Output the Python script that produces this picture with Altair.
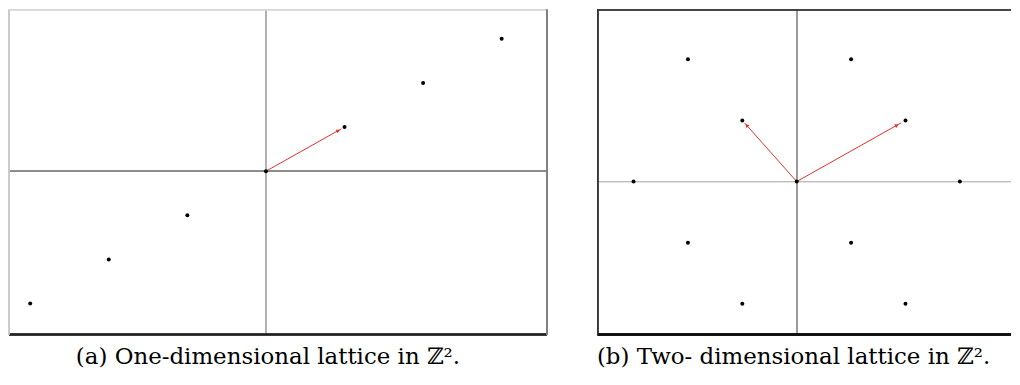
import math
import altair as alt
import pandas as pd

# ---- Panel (a): one-dimensional lattice generated by (2, 1)
a_pts_x = [-6, -4, -2, 0, 2, 4, 6]
a_pts_y = [-3, -2, -1, 0, 1, 2, 3]
a_vec_x = [2]
a_vec_y = [1]
a_xdom = [-6.54, 7.15]
a_ydom = [-3.70, 3.66]

# ---- Panel (b): two-dimensional lattice generated by (2, 1) and (-1, 1)
b_pts_x = [-2, 1, 4, -1, 2, -3, 0, 3, -2, 1, 4, -1, 2]
b_pts_y = [2, 2, 2, 1, 1, 0, 0, 0, -1, -1, -1, -2, -2]
b_vec_x = [2, -1]
b_vec_y = [1, 1]
b_xdom = [-3.66, 3.94]
b_ydom = [-2.50, 2.81]

caption_a = "(a) One-dimensional lattice in ℤ²."
caption_b = "(b) Two- dimensional lattice in ℤ²."

H = 326
A_W = 540
B_W = 415
FONT = "DejaVu Serif"
RED = "#e0302e"


def panel(px, py, vx, vy, xdom, ydom, w, h, caption, anchor, dx,
          hcol, vcol, top_col, left_col, right_col, bottom_col, draw_right=True):
    xs = alt.Scale(domain=xdom, nice=False, zero=False)
    ys = alt.Scale(domain=ydom, nice=False, zero=False)
    pxu = w / (xdom[1] - xdom[0])
    pyu = h / (ydom[1] - ydom[0])

    pts = pd.DataFrame({"x": px, "y": py})
    vec = pd.DataFrame({"x0": [0] * len(vx), "y0": [0] * len(vy),
                        "x1": [v * 0.96 for v in vx], "y1": [v * 0.96 for v in vy],
                        "hx": [v * 0.92 for v in vx], "hy": [v * 0.92 for v in vy],
                        "ang": [(math.degrees(math.atan2(-b * pyu, a * pxu)) + 360) % 360
                                for a, b in zip(vx, vy)]})

    X = lambda f: alt.X(f, type="quantitative", scale=xs, axis=None)
    Y = lambda f: alt.Y(f, type="quantitative", scale=ys, axis=None)

    haxis = alt.Chart(pts).mark_rule(color=hcol, strokeWidth=1).encode(
        y=alt.Y(datum=0, scale=ys, axis=None),
        x=alt.X(datum=xdom[0], scale=xs, axis=None), x2=alt.X2(datum=xdom[1]))
    vaxis = alt.Chart(pts).mark_rule(color=vcol, strokeWidth=1).encode(
        x=alt.X(datum=0, scale=xs, axis=None),
        y=alt.Y(datum=ydom[0], scale=ys, axis=None), y2=alt.Y2(datum=ydom[1]))

    borders = [
        alt.Chart(pts).mark_rule(color=top_col, strokeWidth=1).encode(
            y=alt.Y(datum=ydom[1], scale=ys, axis=None),
            x=alt.X(datum=xdom[0], scale=xs, axis=None), x2=alt.X2(datum=xdom[1])),
        alt.Chart(pts).mark_rule(color=bottom_col, strokeWidth=1.5).encode(
            y=alt.Y(datum=ydom[0], scale=ys, axis=None),
            x=alt.X(datum=xdom[0], scale=xs, axis=None), x2=alt.X2(datum=xdom[1])),
        alt.Chart(pts).mark_rule(color=left_col, strokeWidth=1).encode(
            x=alt.X(datum=xdom[0], scale=xs, axis=None),
            y=alt.Y(datum=ydom[0], scale=ys, axis=None), y2=alt.Y2(datum=ydom[1])),
    ]
    if draw_right:
        borders.append(alt.Chart(pts).mark_rule(color=right_col, strokeWidth=1.5).encode(
            x=alt.X(datum=xdom[1], scale=xs, axis=None),
            y=alt.Y(datum=ydom[0], scale=ys, axis=None), y2=alt.Y2(datum=ydom[1])))

    lines = alt.Chart(vec).mark_rule(color=RED, strokeWidth=1).encode(
        x=X("x0"), y=Y("y0"), x2="x1", y2="y1")
    heads = alt.Chart(vec).mark_point(shape="triangle-right", filled=True, color=RED,
                                      size=18, opacity=1).encode(
        x=X("hx"), y=Y("hy"), angle=alt.Angle("ang:Q", scale=None))
    dots = alt.Chart(pts).mark_circle(color="black", size=16, opacity=1, clip=True).encode(
        x=X("x"), y=Y("y"))

    return alt.layer(haxis, vaxis, *borders, lines, heads, dots).properties(
        width=w, height=h,
        title=alt.TitleParams(caption, orient="bottom", anchor=anchor, dx=dx,
                              offset=29, baseline="alphabetic", font=FONT,
                              fontSize=23, fontWeight="normal", color="black"))


pa = panel(a_pts_x, a_pts_y, a_vec_x, a_vec_y, a_xdom, a_ydom, A_W, H, caption_a,
           "middle", -10, "#8a8a8a", "#b0b0b0", "#d8d8d8", "#cccccc", "#808080", "#222222")
pb = panel(b_pts_x, b_pts_y, b_vec_x, b_vec_y, b_xdom, b_ydom, B_W, H, caption_b,
           "start", 0, "#bdbdbd", "#9a9a9a", "#444444", "#333333", "#333333", "#111111",
           draw_right=False)

chart = alt.hconcat(pa, pb, spacing=49).properties(padding=0).configure_view(stroke=None)
chart.save("out.html", embed_options={"renderer": "svg", "actions": False})
